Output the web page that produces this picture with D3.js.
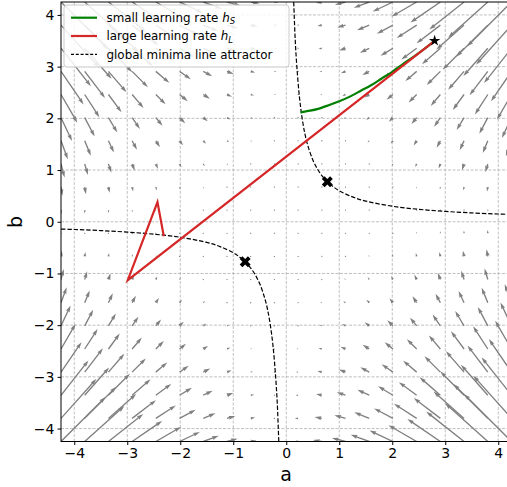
<!DOCTYPE html>
<html>
<head>
<meta charset="utf-8">
<style>
  body { margin: 0; background: white; font-family: "DejaVu Sans", sans-serif; }
  svg { display: block; }
</style>
<script src="https://cdn.jsdelivr.net/npm/d3@7"></script>
</head>
<body>
<svg id="chart"></svg>
<script>
// quiver grid (20 points from -4.25 to 4.25) and the loss minimum level ab = c
let gridVals = [-4.25, -3.803, -3.355, -2.908, -2.461, -2.013, -1.566, -1.118, -0.671, -0.224,
                0.224, 0.671, 1.118, 1.566, 2.013, 2.461, 2.908, 3.355, 3.803, 4.25]
let minLevel = 0.6

// global minima line
let minimaPos = [[0.141, 4.25], [0.15, 4.0], [0.17, 3.5], [0.2, 3.0], [0.25, 2.4], [0.3, 2.0], [0.35, 1.71],
                 [0.4, 1.5], [0.5, 1.2], [0.6, 1.0], [0.7, 0.857], [0.775, 0.775], [0.9, 0.667], [1.0, 0.6],
                 [1.25, 0.48], [1.5, 0.4], [2.0, 0.3], [2.5, 0.24], [3.0, 0.2], [3.5, 0.171], [4.0, 0.15], [4.25, 0.141]]
let minimaNeg = minimaPos.map(p => [-p[0], -p[1]])

// trajectories
let smallLR = [[2.8, 3.5], [2.6, 3.34], [2.4, 3.19], [2.2, 3.05], [2.0, 2.9], [1.8, 2.77], [1.6, 2.64],
               [1.4, 2.53], [1.2, 2.42], [1.0, 2.33], [0.8, 2.253], [0.6, 2.184], [0.45, 2.148],
               [0.35, 2.13], [0.27, 2.117]]
let largeLR = [[2.8, 3.5], [-2.99, -1.13], [-2.43, 0.38], [-2.31, -0.28]]
let startPoint = [2.8, 3.5]
let minimaMarks = [[0.775, 0.775], [-0.775, -0.775]]

let ticks = [-4, -3, -2, -1, 0, 1, 2, 3, 4]

let width = 507, height = 487
let svg = d3.select("#chart").attr("width", width).attr("height", height)

let x = d3.scaleLinear().domain([-4.25, 4.25]).range([61, 511.5])
let y = d3.scaleLinear().domain([-4.25, 4.25]).range([441.5, 2])

svg.append("defs").append("clipPath").attr("id", "plot")
  .append("rect").attr("x", 61).attr("y", 2).attr("width", 450.5).attr("height", 439.5)

// grid
let grid = svg.append("g")
grid.selectAll(".gx").data(ticks).enter().append("line")
  .attr("x1", d => x(d)).attr("x2", d => x(d)).attr("y1", 2).attr("y2", 441.5)
  .attr("stroke", "#b0b0b0").attr("stroke-width", 0.8).attr("stroke-dasharray", "3,1.5")
grid.selectAll(".gy").data(ticks).enter().append("line")
  .attr("y1", d => y(d)).attr("y2", d => y(d)).attr("x1", 61).attr("x2", 511.5)
  .attr("stroke", "#b0b0b0").attr("stroke-width", 0.8).attr("stroke-dasharray", "3,1.5")

// quiver: negative gradient of (ab - c)^2 / 2
let arrows = []
gridVals.forEach(a => gridVals.forEach(b => {
  let r = a * b - minLevel
  arrows.push({a, b, u: -r * b, v: -r * a})
}))

let pxPerUnit = 0.6
let w = 1.35, hl = 5 * w, hal = 4.5 * w, hw = 3 * w

function arrowPath(d) {
  let L = Math.hypot(d.u, d.v) * pxPerUnit
  let ang = Math.atan2(-d.v, d.u)
  let x0 = x(d.a), y0 = y(d.b)
  let pts
  if (L < w) {
    pts = d3.range(6).map(i => [w / 2 * Math.cos(i * Math.PI / 3), w / 2 * Math.sin(i * Math.PI / 3)])
  } else {
    let s = 1, len = L
    if (L < hl) { s = L / hl; len = hl }
    pts = [[0, -w / 2], [len - hal, -w / 2], [len - hl, -hw / 2], [len, 0],
           [len - hl, hw / 2], [len - hal, w / 2], [0, w / 2]].map(p => [p[0] * s, p[1] * s])
  }
  let c = Math.cos(ang), sn = Math.sin(ang)
  return "M" + pts.map(p => [x0 + p[0] * c - p[1] * sn, y0 + p[0] * sn + p[1] * c].join(",")).join("L") + "Z"
}

svg.append("g").attr("clip-path", "url(#plot)")
  .selectAll("path").data(arrows).enter().append("path")
  .attr("d", arrowPath)
  .attr("fill", "#808080")

// minima line
let line = d3.line().x(d => x(d[0])).y(d => y(d[1])).curve(d3.curveCatmullRom)
let lines = svg.append("g").attr("clip-path", "url(#plot)")
;[minimaPos, minimaNeg].forEach(pts => {
  lines.append("path").attr("d", line(pts))
    .attr("fill", "none").attr("stroke", "black").attr("stroke-width", 1.2)
    .attr("stroke-dasharray", "4.4,1.9")
})

lines.append("path").attr("d", line(smallLR))
  .attr("fill", "none").attr("stroke", "#008000").attr("stroke-width", 2.2)
lines.append("path").attr("d", d3.line().x(d => x(d[0])).y(d => y(d[1]))(largeLR))
  .attr("fill", "none").attr("stroke", "#d62728").attr("stroke-width", 2.2)
  .attr("stroke-linejoin", "miter")

svg.append("path")
  .attr("d", d3.symbol(d3.symbolStar, 40)())
  .attr("transform", `translate(${x(startPoint[0])},${y(startPoint[1])})`)
  .attr("fill", "black")

svg.selectAll(".xm").data(minimaMarks).enter().append("path")
  .attr("d", d3.symbol(d3.symbolCross, 75)())
  .attr("transform", d => `translate(${x(d[0])},${y(d[1])}) rotate(45)`)
  .attr("fill", "black")

// frame
svg.append("rect").attr("x", 61).attr("y", 2).attr("width", 450.5).attr("height", 439.5)
  .attr("fill", "none").attr("stroke", "black").attr("stroke-width", 1)

// axes
let fmt = d => d < 0 ? "\u2212" + Math.abs(d) : String(d)
let xAxis = svg.append("g").attr("transform", "translate(0,441.5)")
  .call(d3.axisBottom(x).tickValues(ticks).tickFormat(fmt).tickSize(3.5).tickPadding(3))
let yAxis = svg.append("g").attr("transform", "translate(61,0)")
  .call(d3.axisLeft(y).tickValues(ticks).tickFormat(fmt).tickSize(3.5).tickPadding(3))
;[xAxis, yAxis].forEach(g => {
  g.select(".domain").remove()
  g.selectAll("text").attr("font-family", "DejaVu Sans").attr("font-size", 14).attr("fill", "black")
  g.selectAll("line").attr("stroke", "black")
})

svg.append("text").attr("x", 286).attr("y", 481).attr("text-anchor", "middle")
  .attr("font-size", 19).text("a")
svg.append("text").attr("transform", "translate(22,222) rotate(-90)").attr("text-anchor", "middle")
  .attr("font-size", 19).text("b")

// legend
let legend = svg.append("g")
legend.append("rect").attr("x", 64).attr("y", 5).attr("width", 225).attr("height", 62).attr("rx", 3)
  .attr("fill", "white").attr("fill-opacity", 0.85).attr("stroke", "#cccccc").attr("stroke-width", 1)
let items = [
  {color: "#008000", dash: null, label: "small learning rate ", sub: "S"},
  {color: "#d62728", dash: null, label: "large learning rate ", sub: "L"},
  {color: "black", dash: "3,1.8", label: "global minima line attractor", sub: null}
]
items.forEach((it, i) => {
  let yy = 17.7 + i * 18.3
  legend.append("line").attr("x1", 71).attr("x2", 97).attr("y1", yy).attr("y2", yy)
    .attr("stroke", it.color).attr("stroke-width", it.dash ? 1.2 : 2.2)
    .attr("stroke-dasharray", it.dash)
  let t = legend.append("text").attr("x", 106.5).attr("y", yy + 4.2).attr("font-size", 11.9)
  t.append("tspan").text(it.label)
  if (it.sub) {
    t.append("tspan").attr("font-style", "italic").text("h")
    t.append("tspan").attr("font-style", "italic").attr("font-size", 8.5).attr("dy", 2.5).text(it.sub)
  }
})
</script>
</body>
</html>
